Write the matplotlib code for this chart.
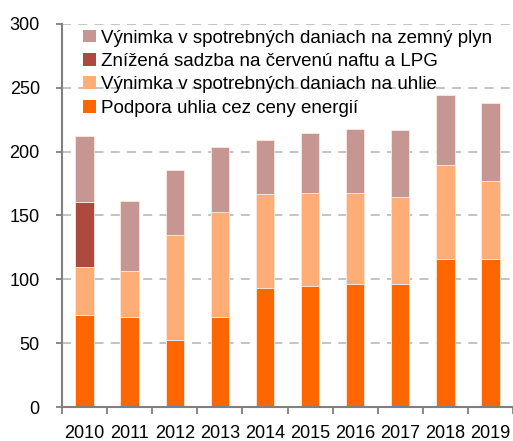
import matplotlib
matplotlib.use("Agg")
import matplotlib.pyplot as plt
import numpy as np
from matplotlib.patches import Patch

plt.rcParams['font.family'] = ['Liberation Sans', 'DejaVu Sans']

years = ['2010', '2011', '2012', '2013', '2014', '2015', '2016', '2017', '2018', '2019']
podpora = [72, 70.5, 52.5, 70.5, 93, 95, 96, 96, 116, 116]
uhlie = [38, 36, 82, 82, 74, 73, 71.5, 68.5, 73.5, 61]
nafta = [50.5, 0, 0, 0, 0, 0, 0, 0, 0, 0]
plyn = [52, 54.5, 51.5, 51, 42.5, 46.5, 50.5, 52.5, 55, 61.5]

labels = ['Podpora uhlia cez ceny energií',
          'Výnimka v spotrebných daniach na uhlie',
          'Znížená sadzba na červenú naftu a LPG',
          'Výnimka v spotrebných daniach na zemný plyn']
colors = ['#FF6600', '#FFAD76', '#AD4A3F', '#C69792']
series = [podpora, uhlie, nafta, plyn]

fig = plt.figure(figsize=(5.13, 4.41), dpi=100)
ax = fig.add_axes([62/513, 1-407/441, 1-62/513, 383/441])

x = np.arange(len(years))
bottom = np.zeros(len(years))
for vals, c in zip(series, colors):
    v = np.array(vals, dtype=float)
    ax.bar(x, v, bottom=bottom, width=0.41, color=c, edgecolor='#FFE8DC', linewidth=0.6)
    bottom += v

ax.set_ylim(0, 300)
ax.set_xlim(-0.5, 9.5)
ax.set_yticks(np.arange(0, 301, 50))
ax.yaxis.grid(True, linestyle=(0, (5, 4)), color='#BEBEBE', linewidth=1.3)
ax.set_axisbelow(True)
ax.set_xticks(x)
ax.set_xticklabels(years)
ax.set_xticks(np.arange(-0.5, 10, 1), minor=True)
ax.tick_params(axis='x', which='major', length=0, pad=13, labelsize=13)
ax.tick_params(axis='x', which='minor', length=5, width=1.3, color='#808080', direction='out')
ax.tick_params(axis='y', length=4, width=1.3, color='#808080', labelsize=13, pad=12)
for s in ['top', 'right']:
    ax.spines[s].set_visible(False)
for s in ['left', 'bottom']:
    ax.spines[s].set_color('#808080')
    ax.spines[s].set_linewidth(1.5)

handles = [Patch(facecolor=colors[i], edgecolor='none') for i in [3, 2, 1, 0]]
leg_labels = [labels[i] for i in [3, 2, 1, 0]]
ax.legend(handles, leg_labels, loc='upper left', bbox_to_anchor=(0.022, 1.015),
          frameon=False, fontsize=13.5, handlelength=0.68, handleheight=0.68,
          handletextpad=0.25, labelspacing=0.34, borderaxespad=0.2)

fig.savefig('out.png', dpi=100)
